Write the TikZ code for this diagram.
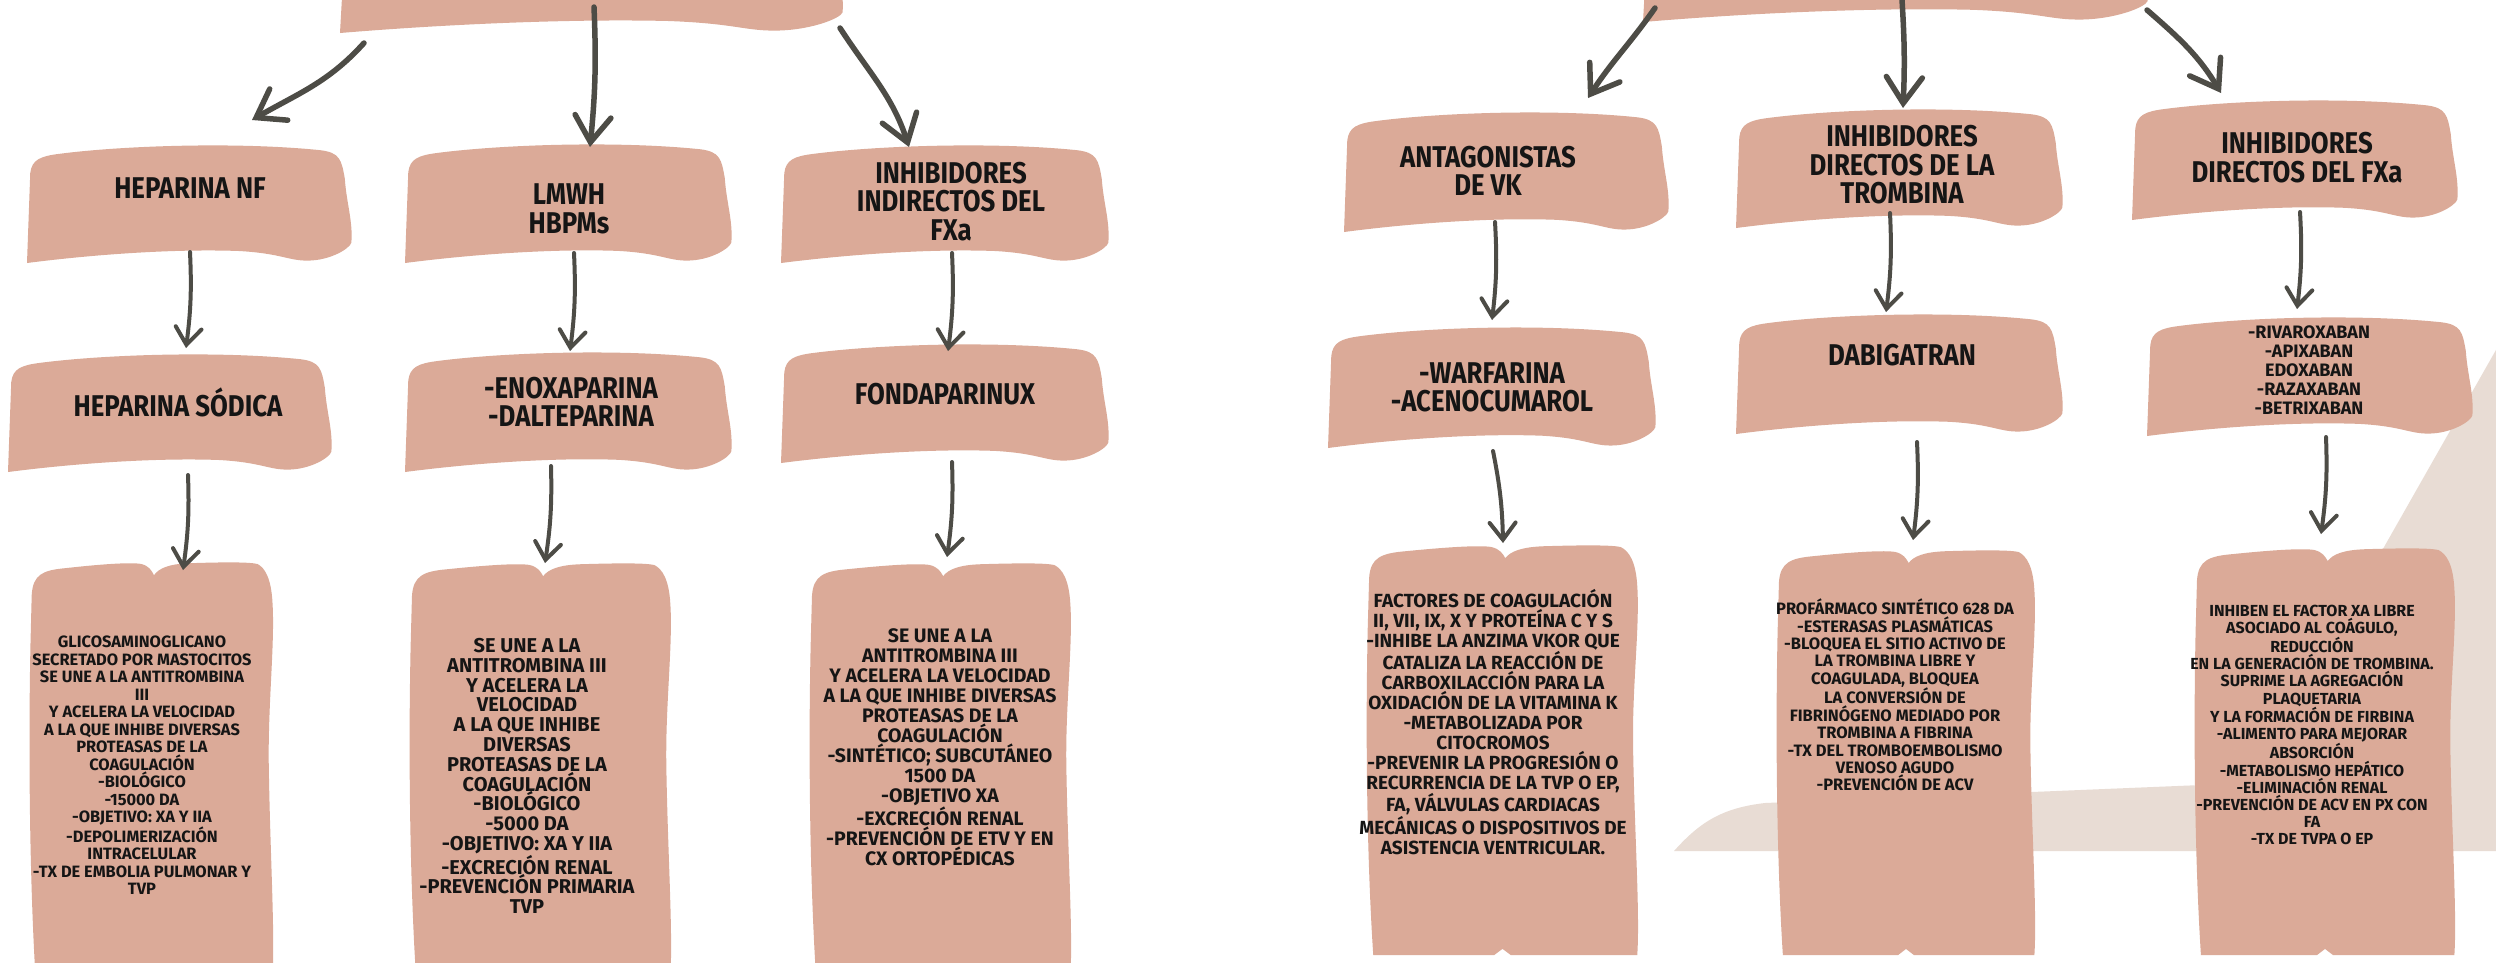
\documentclass[tikz,border=0pt]{standalone}
\usepackage{fontspec}
\usetikzlibrary{arrows.meta,calc}
\newfontfamily\hand{Fira Sans}[FakeStretch=0.86]
\newfontfamily\handw{Fira Sans}
\definecolor{boxc}{HTML}{DBAA98}
\definecolor{beigec}{HTML}{E8DCD4}
\definecolor{arrc}{HTML}{4D4C46}
\definecolor{txtc}{HTML}{151515}
\newcommand\lblfont{\hand\bfseries\fontsize{30}{28.5}\selectfont}
\newcommand\smallfont[2]{\handw\bfseries\fontsize{#1}{#2}\selectfont}
% flat wavy box: name, x1, y1, x2, y2 (image coordinates)
\newcommand\flatbox[5]{%
  \pgfmathsetmacro\bw{#4-#2}\pgfmathsetmacro\bh{#5-#3}%
  \begin{scope}[shift={(#2,#3)},xscale=\bw,yscale=\bh]
    \fill[boxc] (0,1) -- (0.01,0.25)
      .. controls (0.015,0.14) and (0.04,0.11) .. (0.1,0.09)
      .. controls (0.3,0.02) and (0.65,-0.01) .. (0.9,0.06)
      .. controls (0.96,0.08) and (0.965,0.14) .. (0.975,0.3)
      .. controls (0.98,0.5) and (1.0,0.65) .. (0.995,0.83)
      .. controls (0.99,0.88) and (0.93,0.98) .. (0.86,0.98)
      .. controls (0.8,0.98) and (0.78,0.92) .. (0.65,0.9)
      .. controls (0.45,0.88) and (0.2,0.93) .. (0,1) -- cycle;
  \end{scope}
  \node[frame, minimum width=\bw pt, minimum height=\bh pt] (#1) at ({(#2+#4)/2},{(#3+#5)/2}) {};
}
% tall two-lobed box
\newcommand\tallbox[5]{%
  \pgfmathsetmacro\bw{#4-#2}\pgfmathsetmacro\bh{#5-#3}%
  \begin{scope}[shift={(#2,#3)},xscale=\bw,yscale=\bh]
    \fill[boxc] (0.03,1.0)
      .. controls (0.01,0.8) and (0.0,0.5) .. (0.01,0.2)
      -- (0.015,0.08)
      .. controls (0.02,0.03) and (0.06,0.02) .. (0.15,0.015)
      .. controls (0.3,0.005) and (0.42,0.0) .. (0.46,0.005)
      .. controls (0.49,0.01) and (0.5,0.02) .. (0.51,0.032)
      .. controls (0.53,0.015) and (0.57,0.005) .. (0.65,0.003)
      .. controls (0.8,0.0) and (0.9,0.0) .. (0.93,0.005)
      .. controls (0.96,0.015) and (0.985,0.04) .. (0.99,0.1)
      .. controls (1.0,0.2) and (0.97,0.35) .. (0.975,0.5)
      .. controls (0.98,0.7) and (1.0,0.9) .. (0.99,1.0)
      -- (0.53,1.0) -- (0.5,0.985) -- (0.47,1.0) -- cycle;
  \end{scope}
  \node[frame, minimum width=\bw pt, minimum height=\bh pt] (#1) at ({(#2+#4)/2},{(#3+#5)/2}) {};
}
\tikzset{
  frame/.style={inner sep=0pt, outer sep=0pt, draw=none, rectangle},
  lbl/.style={font=\lblfont, text=txtc, align=center, inner sep=0pt},
  body/.style={text=txtc, align=center, inner sep=0pt},
  arr/.style={draw=arrc, line width=4pt, line cap=round, line join=round,
    -{Straight Barb[length=17pt,width=26pt,line cap=round]}},
  bigarr/.style={draw=arrc, line width=5.5pt, line cap=round, line join=round,
    -{Straight Barb[length=26pt,width=36pt,line cap=round]}},
}
\begin{document}
\begin{tikzpicture}[x=1pt,y=-1pt]
\useasboundingbox (0,0) rectangle (2496,962);
\clip (0,0) rectangle (2496,962);
\fill[white] (0,0) rectangle (2496,962);
% beige background shape
\fill[beigec] (1674,851) .. controls (1700,822) and (1722,808) .. (1765,803)
  -- (2250,783) -- (2530,290) -- (2530,851) -- cycle;

% ---------- left tree ----------
\flatbox{T1}{340}{-87}{845}{33}
\flatbox{HNF}{27}{143}{353}{263}
\flatbox{LMWH}{405}{142}{733}{263}
\flatbox{INHI}{781}{143}{1110}{263}
\flatbox{HS}{8}{352}{333}{472}
\flatbox{ENOX}{405}{350}{733}{472}
\flatbox{FOND}{781}{342}{1110}{463}
\tallbox{G}{28}{562}{275}{975}
\tallbox{H}{408}{563}{673}{975}
\tallbox{I}{808}{563}{1073}{975}

% ---------- right tree ----------
\flatbox{T2}{1643}{-100}{2150}{22}
\flatbox{ANTAG}{1344}{110}{1670}{232}
\flatbox{TROMB}{1736}{107}{2064}{228}
\flatbox{FXA}{2132}{98}{2459}{220}
\flatbox{WARF}{1328}{325}{1657}{448}
\flatbox{DABI}{1736}{312}{2064}{434}
\flatbox{RIVA}{2147}{315}{2474}{436}
\tallbox{J}{1365}{545}{1640}{955}
\tallbox{K}{1775}{550}{2037}{955}
\tallbox{L}{2193}{548}{2457}{955}

% ---------- texts ----------
\node[lbl] (tHNF) at (190,188) {HEPARINA NF};
\node[lbl] (tLMWH) at (569,209) {LMWH\\HBPMs};
\node[lbl] (tINHI) at (951,201.5) {INHIBIDORES\\INDIRECTOS DEL\\FXa};
\node[lbl] (tHS) at (178,402) {HEPARINA SÓDICA};
\node[lbl] (tENOX) at (571,402) {-ENOXAPARINA\\-DALTEPARINA};
\node[lbl] (tFOND) at (945,394) {FONDAPARINUX};
\node[lbl] (tANTAG) at (1488,171) {ANTAGONISTAS\\DE VK};
\node[lbl] (tTROMB) at (1902,165) {INHIBIDORES\\DIRECTOS DE LA\\TROMBINA};
\node[lbl] (tFXA) at (2297,157.5) {INHIBIDORES\\DIRECTOS DEL FXa};
\node[lbl] (tWARF) at (1492,387.5) {-WARFARINA\\-ACENOCUMAROL};
\node[lbl] (tDABI) at (1902,355) {DABIGATRAN};
\node[body, font=\smallfont{18}{19.2}] (tRIVA) at (2309,370) {-RIVAROXABAN\\-APIXABAN\\EDOXABAN\\-RAZAXABAN\\-BETRIXABAN};

\node[body, font=\smallfont{16.4}{17.5}] (tG) at (142,765.5) {GLICOSAMINOGLICANO\\SECRETADO POR MASTOCITOS\\SE UNE A LA ANTITROMBINA\\III\\Y ACELERA LA VELOCIDAD\\A LA QUE INHIBE DIVERSAS\\PROTEASAS DE LA\\COAGULACIÓN\\-BIOLÓGICO\\-15000 DA\\-OBJETIVO: XA Y IIA\\-DEPOLIMERIZACIÓN\\INTRACELULAR\\-TX DE EMBOLIA PULMONAR Y\\TVP};
\node[body, font=\smallfont{20}{19.8}] (tH) at (527,776) {SE UNE A LA\\ANTITROMBINA III\\Y ACELERA LA\\VELOCIDAD\\A LA QUE INHIBE\\DIVERSAS\\PROTEASAS DE LA\\COAGULACIÓN\\-BIOLÓGICO\\-5000 DA\\-OBJETIVO: XA Y IIA\\-EXCRECIÓN RENAL\\-PREVENCIÓN PRIMARIA\\TVP};
\node[body, font=\smallfont{19.5}{20}] (tI) at (940,747) {SE UNE A LA\\ANTITROMBINA III\\Y ACELERA LA VELOCIDAD\\A LA QUE INHIBE DIVERSAS\\PROTEASAS DE LA\\COAGULACIÓN\\-SINTÉTICO; SUBCUTÁNEO\\1500 DA\\-OBJETIVO XA\\-EXCRECIÓN RENAL\\-PREVENCIÓN DE ETV Y EN\\CX ORTOPÉDICAS};
\node[body, font=\smallfont{19}{20}] (tJ) at (1493,722) {FACTORES DE COAGULACIÓN\\II, VII, IX, X Y PROTEÍNA C Y S\\-INHIBE LA ANZIMA VKOR QUE\\CATALIZA LA REACCIÓN DE\\CARBOXILACCIÓN PARA LA\\OXIDACIÓN DE LA VITAMINA K\\-METABOLIZADA POR\\CITOCROMOS\\-PREVENIR LA PROGRESIÓN O\\RECURRENCIA DE LA TVP O EP,\\FA, VÁLVULAS CARDIACAS\\MECÁNICAS O DISPOSITIVOS DE\\ASISTENCIA VENTRICULAR.};
\node[body, font=\smallfont{16.5}{17.4}] (tK) at (1895,695) {PROFÁRMACO SINTÉTICO 628 DA\\-ESTERASAS PLASMÁTICAS\\-BLOQUEA EL SITIO ACTIVO DE\\LA TROMBINA LIBRE Y\\COAGULADA, BLOQUEA\\LA CONVERSIÓN DE\\FIBRINÓGENO MEDIADO POR\\TROMBINA A FIBRINA\\-TX DEL TROMBOEMBOLISMO\\VENOSO AGUDO\\-PREVENCIÓN DE ACV};
\node[body, font=\smallfont{16}{17.2}] (tL) at (2312,725) {INHIBEN EL FACTOR XA LIBRE\\ASOCIADO AL COÁGULO,\\REDUCCIÓN\\EN LA GENERACIÓN DE TROMBINA.\\SUPRIME LA AGREGACIÓN\\PLAQUETARIA\\Y LA FORMACIÓN DE FIRBINA\\-ALIMENTO PARA MEJORAR\\ABSORCIÓN\\-METABOLISMO HEPÁTICO\\-ELIMINACIÓN RENAL\\-PREVENCIÓN DE ACV EN PX CON\\FA\\-TX DE TVPA O EP};

% ---------- arrows, left ----------
\draw[bigarr] ([xshift=-228.5pt,yshift=-10pt]T1.south) to[out=228,in=30] ([xshift=62pt,yshift=23pt]HNF.north);
\draw[bigarr] ([xshift=1.5pt,yshift=26pt]T1.south) to[bend left=4] ([xshift=21pt,yshift=-5pt]LMWH.north);
\draw[bigarr] ([xshift=247.5pt,yshift=5pt]T1.south) to[out=303,in=108] ([xshift=-36.5pt,yshift=-4pt]INHI.north);
\draw[arr] ([yshift=11pt]HNF.south) to[bend left=5] ([xshift=15.5pt,yshift=4pt]HS.north);
\draw[arr] ([xshift=17.5pt,yshift=-3pt]HS.south) to[bend left=5] ([xshift=31.5pt,yshift=-8pt]G.north);
\draw[arr] ([xshift=5pt,yshift=10pt]LMWH.south) to[bend left=5] ([xshift=1pt,yshift=-1pt]ENOX.north);
\draw[arr] ([xshift=-18pt,yshift=6pt]ENOX.south) to[bend left=5] ([xshift=4.5pt]H.north);
\draw[arr] ([xshift=6.5pt,yshift=10pt]INHI.south) to[bend left=5] ([xshift=2.5pt,yshift=-9pt]FOND.north);
\draw[arr] ([xshift=6.5pt,yshift=1pt]FOND.south) to[bend left=5] ([xshift=6.5pt,yshift=6pt]I.north);
% ---------- arrows, right ----------
\draw[bigarr] ([xshift=-241.5pt,yshift=14pt]T2.south) to[out=235,in=57] ([xshift=81pt,yshift=12pt]ANTAG.north);
\draw[bigarr] ([xshift=5.5pt,yshift=22pt]T2.south) to[bend left=3] ([xshift=3pt,yshift=-1pt]TROMB.north);
\draw[bigarr] ([xshift=250.5pt,yshift=12pt]T2.south) to[out=319,in=121] ([xshift=-74.5pt,yshift=5pt]FXA.north);
\draw[arr] ([xshift=-12pt,yshift=10pt]ANTAG.south) to[bend left=5] ([xshift=-0.5pt,yshift=5pt]WARF.north);
\draw[arr] ([xshift=0.5pt,yshift=-3pt]WARF.south) to[bend left=5] ([xshift=0.5pt,yshift=2pt]J.north);
\draw[arr] ([xshift=-10pt,yshift=15pt]TROMB.south) to[bend left=5] ([xshift=-14pt]DABI.north);
\draw[arr] ([xshift=17pt,yshift=-8pt]DABI.south) to[bend left=5] ([xshift=7pt,yshift=10pt]K.north);
\draw[arr] ([xshift=4.5pt,yshift=8pt]FXA.south) to[bend left=5] ([xshift=-13.5pt,yshift=6pt]RIVA.north);
\draw[arr] ([xshift=15.5pt,yshift=-1pt]RIVA.south) to[bend left=5] ([xshift=-4pt,yshift=14pt]L.north);
\end{tikzpicture}
\end{document}
